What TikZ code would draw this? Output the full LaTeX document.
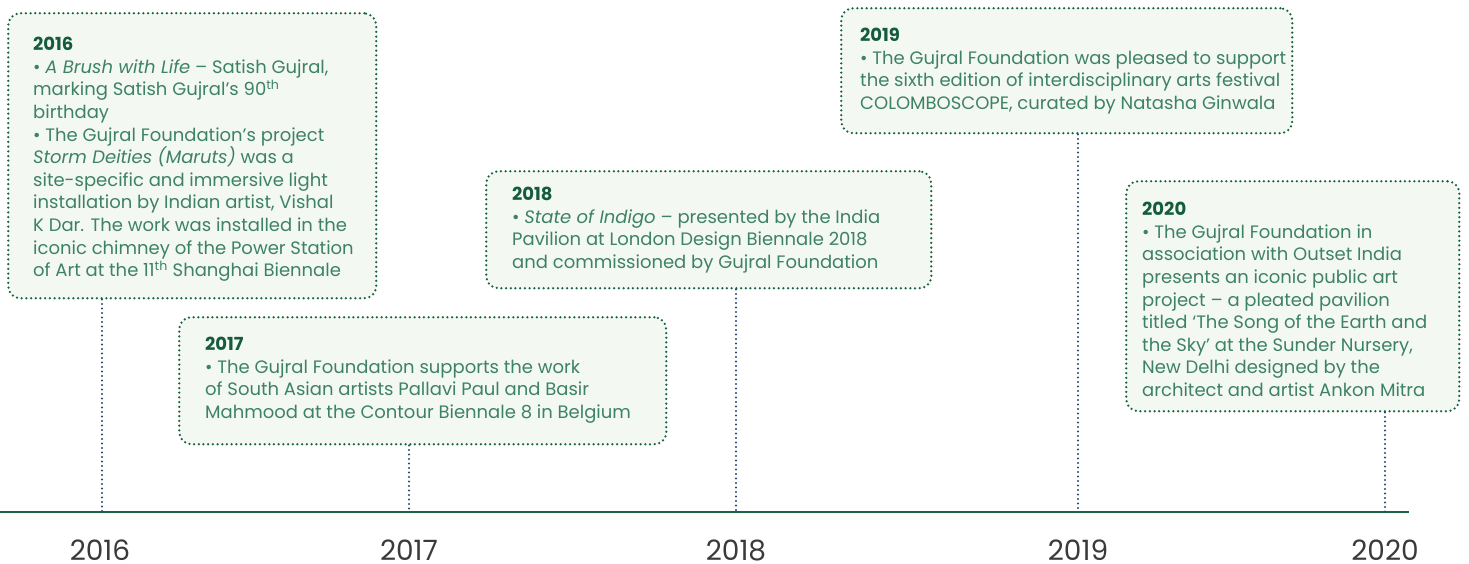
\documentclass[tikz,border=0pt]{standalone}
\usepackage{fontspec}
\setmainfont{Poppins}
\definecolor{boxfill}{HTML}{F3F8F2}
\definecolor{boxline}{HTML}{1A6340}
\definecolor{bodytxt}{HTML}{3E8266}
\definecolor{titletxt}{HTML}{145C3C}
\definecolor{connc}{HTML}{27487A}
\definecolor{axisc}{HTML}{1B6444}
\definecolor{yearc}{HTML}{3A3A3A}
\tikzset{
  evbox/.style={draw=boxline, fill=boxfill, line width=2.5pt, line cap=round,
    dash pattern=on 0pt off 4.7pt, rounded corners=12pt, rectangle, inner sep=0pt, anchor=north west},
  evtxt/.style={anchor=north west, inner sep=0pt, align=left, text=bodytxt,
    font=\fontsize{18}{22.6}\selectfont},
  conn/.style={draw=connc, line width=2.3pt, line cap=round, dash pattern=on 0pt off 4.5pt},
  yearlbl/.style={text=yearc, font=\fontsize{28}{30}\selectfont, inner sep=0pt, anchor=base, text depth=0pt},
}
\newcommand{\ttl}[1]{{\color{titletxt}\bfseries #1}}
\begin{document}
\begin{tikzpicture}[x=1pt,y=-1pt]
\useasboundingbox (0,0) rectangle (1469,564);
% axis
\coordinate (a0) at (0,512);
\coordinate (a1) at (1409,512);
\coordinate (t16) at (102,512);
\coordinate (t17) at (409,512);
\coordinate (t18) at (736,512);
\coordinate (t19) at (1078,512);
\coordinate (t20) at (1385,512);
\draw[axisc, line width=1.8pt] (a0) -- (a1);
% boxes
\node[evbox, minimum width=368pt, minimum height=285pt] (b16) at (7,12) {};
\node[evbox, minimum width=487pt, minimum height=127pt] (b17) at (178,316) {};
\node[evbox, minimum width=445pt, minimum height=117pt] (b18) at (485,170) {};
\node[evbox, minimum width=451pt, minimum height=125pt] (b19) at (840,7) {};
\node[evbox, minimum width=333pt, minimum height=230pt] (b20) at (1125,180) {};
% texts
\node[evtxt] (x16) at (33,37) {\ttl{2016}\\
• \textit{A Brush with Life} – Satish Gujral,\\
marking Satish Gujral’s 90\textsuperscript{th}\\
birthday\\
• The Gujral Foundation’s project\\
\textit{Storm Deities (Maruts)} was a\\
site-specific and immersive light\\
installation by Indian artist, Vishal\\
K Dar. The work was installed in the\\
iconic chimney of the Power Station\\
of Art at the 11\textsuperscript{th} Shanghai Biennale};
\node[evtxt] (x17) at (205,337) {\ttl{2017}\\
• The Gujral Foundation supports the work\\
of South Asian artists Pallavi Paul and Basir\\
Mahmood at the Contour Biennale 8 in Belgium};
\node[evtxt] (x18) at (512,187) {\ttl{2018}\\
• \textit{State of Indigo} – presented by the India\\
Pavilion at London Design Biennale 2018\\
and commissioned by Gujral Foundation};
\node[evtxt] (x19) at (860,28) {\ttl{2019}\\
• The Gujral Foundation was pleased to support\\
the sixth edition of interdisciplinary arts festival\\
COLOMBOSCOPE, curated by Natasha Ginwala};
\node[evtxt] (x20) at (1142,202) {\ttl{2020}\\
• The Gujral Foundation in\\
association with Outset India\\
presents an iconic public art\\
project – a pleated pavilion\\
titled ‘The Song of the Earth and\\
the Sky’ at the Sunder Nursery,\\
New Delhi designed by the\\
architect and artist Ankon Mitra};
% connectors
\draw[conn] (b16.south -| t16) -- (t16);
\draw[conn] (b17.south -| t17) -- (t17);
\draw[conn] (b18.south -| t18) -- (t18);
\draw[conn] (b19.south -| t19) -- (t19);
\draw[conn] (b20.south -| t20) -- (t20);
% year labels
\node[yearlbl] (y16) at (100,560) {2016};
\node[yearlbl] (y17) at (409,560) {2017};
\node[yearlbl] (y18) at (736,560) {2018};
\node[yearlbl] (y19) at (1078,560) {2019};
\node[yearlbl] (y20) at (1385,560) {2020};
\end{tikzpicture}
\end{document}
